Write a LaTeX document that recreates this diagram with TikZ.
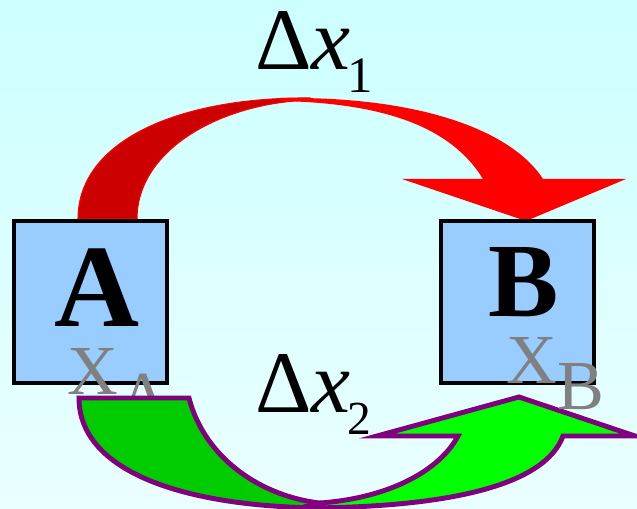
\documentclass[tikz,border=0pt]{standalone}
\usepackage{fontspec}
\setmainfont{Liberation Serif}
\usepackage{xcolor}
\definecolor{BgTop}{RGB}{204, 255, 255}
\definecolor{BgBottom}{RGB}{234, 255, 255}
\definecolor{BoxBlue}{RGB}{153, 204, 255}
\definecolor{RedFront}{RGB}{255, 0, 0}
\definecolor{RedBack}{RGB}{204, 0, 0}
\definecolor{GreenFront}{RGB}{0, 255, 0}
\definecolor{GreenBack}{RGB}{0, 204, 0}
\definecolor{RimPurple}{RGB}{128, 0, 128}
\definecolor{LabelGray}{RGB}{128, 128, 128}
\usepackage{tikz}
\usetikzlibrary{positioning}

\begin{document}
\begin{tikzpicture}[x=0.02cm, y=-0.02cm,
    box/.style={draw=black, line width=2.3pt, fill=BoxBlue, minimum width=3.06cm, minimum height=3.24cm, inner sep=0},
    letter/.style={inner sep=0, anchor=base, font=\bfseries},
    place/.style={inner sep=0, anchor=base west, text=LabelGray, font=\fontsize{40}{40}\selectfont},
    delta/.style={inner sep=0, anchor=base west, font=\fontsize{50}{50}\selectfont},
    ribbon/.style={draw=RimPurple, line width=2.8pt, line join=miter}]
    \shade[top color=BgTop, bottom color=BgBottom] (0,0) rectangle (637,509);
    \useasboundingbox (0,0) rectangle (637,509);
    % upper arrow, back then front
    \filldraw[fill=RedBack, draw=RedFront, line width=0.6pt] (78,219) .. controls (78,140) and (180,97) .. (310,98)
        -- (310,100) .. controls (220,103) and (137,150) .. (137,219) -- cycle;
    \fill[RedFront] (280,98) .. controls (430,96) and (515,135) .. (543,179) -- (626,179) -- (526,221) -- (402,179)
        -- (483,179) .. controls (450,125) and (380,103) .. (280,101) -- cycle;
    \node[box] (boxA) at (90.5,302) {};
    \node[box] (boxB) at (517.5,302) {};
    \node[letter, font=\fontsize{67}{67}\selectfont\bfseries] (letA) at (97,327) {A};
    \node[letter, font=\fontsize{60}{60}\selectfont\bfseries] (letB) at (524,317) {B};
    \node[place] (xA) at (67,395) {X\raisebox{-14.7pt}{A}};
    % lower arrow
    \begin{scope}
        \clip (0,0) rectangle (637,509);
        \filldraw[ribbon, fill=GreenBack] (79,398) -- (189,398) .. controls (205,460) and (265,500) .. (330,504)
            -- (330,508) .. controls (180,508) and (79,470) .. (79,398) -- cycle;
        \filldraw[ribbon, fill=GreenFront] (300,508) .. controls (450,508) and (545,485) .. (563,436) -- (635,436)
            -- (519,397) -- (377,436) -- (458,436) .. controls (440,470) and (390,498) .. (320,503) -- cycle;
    \end{scope}
    \node[place] (xB) at (506,384) {X\raisebox{-14.7pt}{B}};
    \node[delta] (dx1) at (255,70) {Δ\textit{x}\kern-2pt\raisebox{-13pt}{\fontsize{29}{29}\selectfont 1}};
    \node[delta] (dx2) at (255,413) {Δ\textit{x}\kern-2pt\raisebox{-12.5pt}{\fontsize{27}{27}\selectfont 2}};
\end{tikzpicture}
\end{document}
